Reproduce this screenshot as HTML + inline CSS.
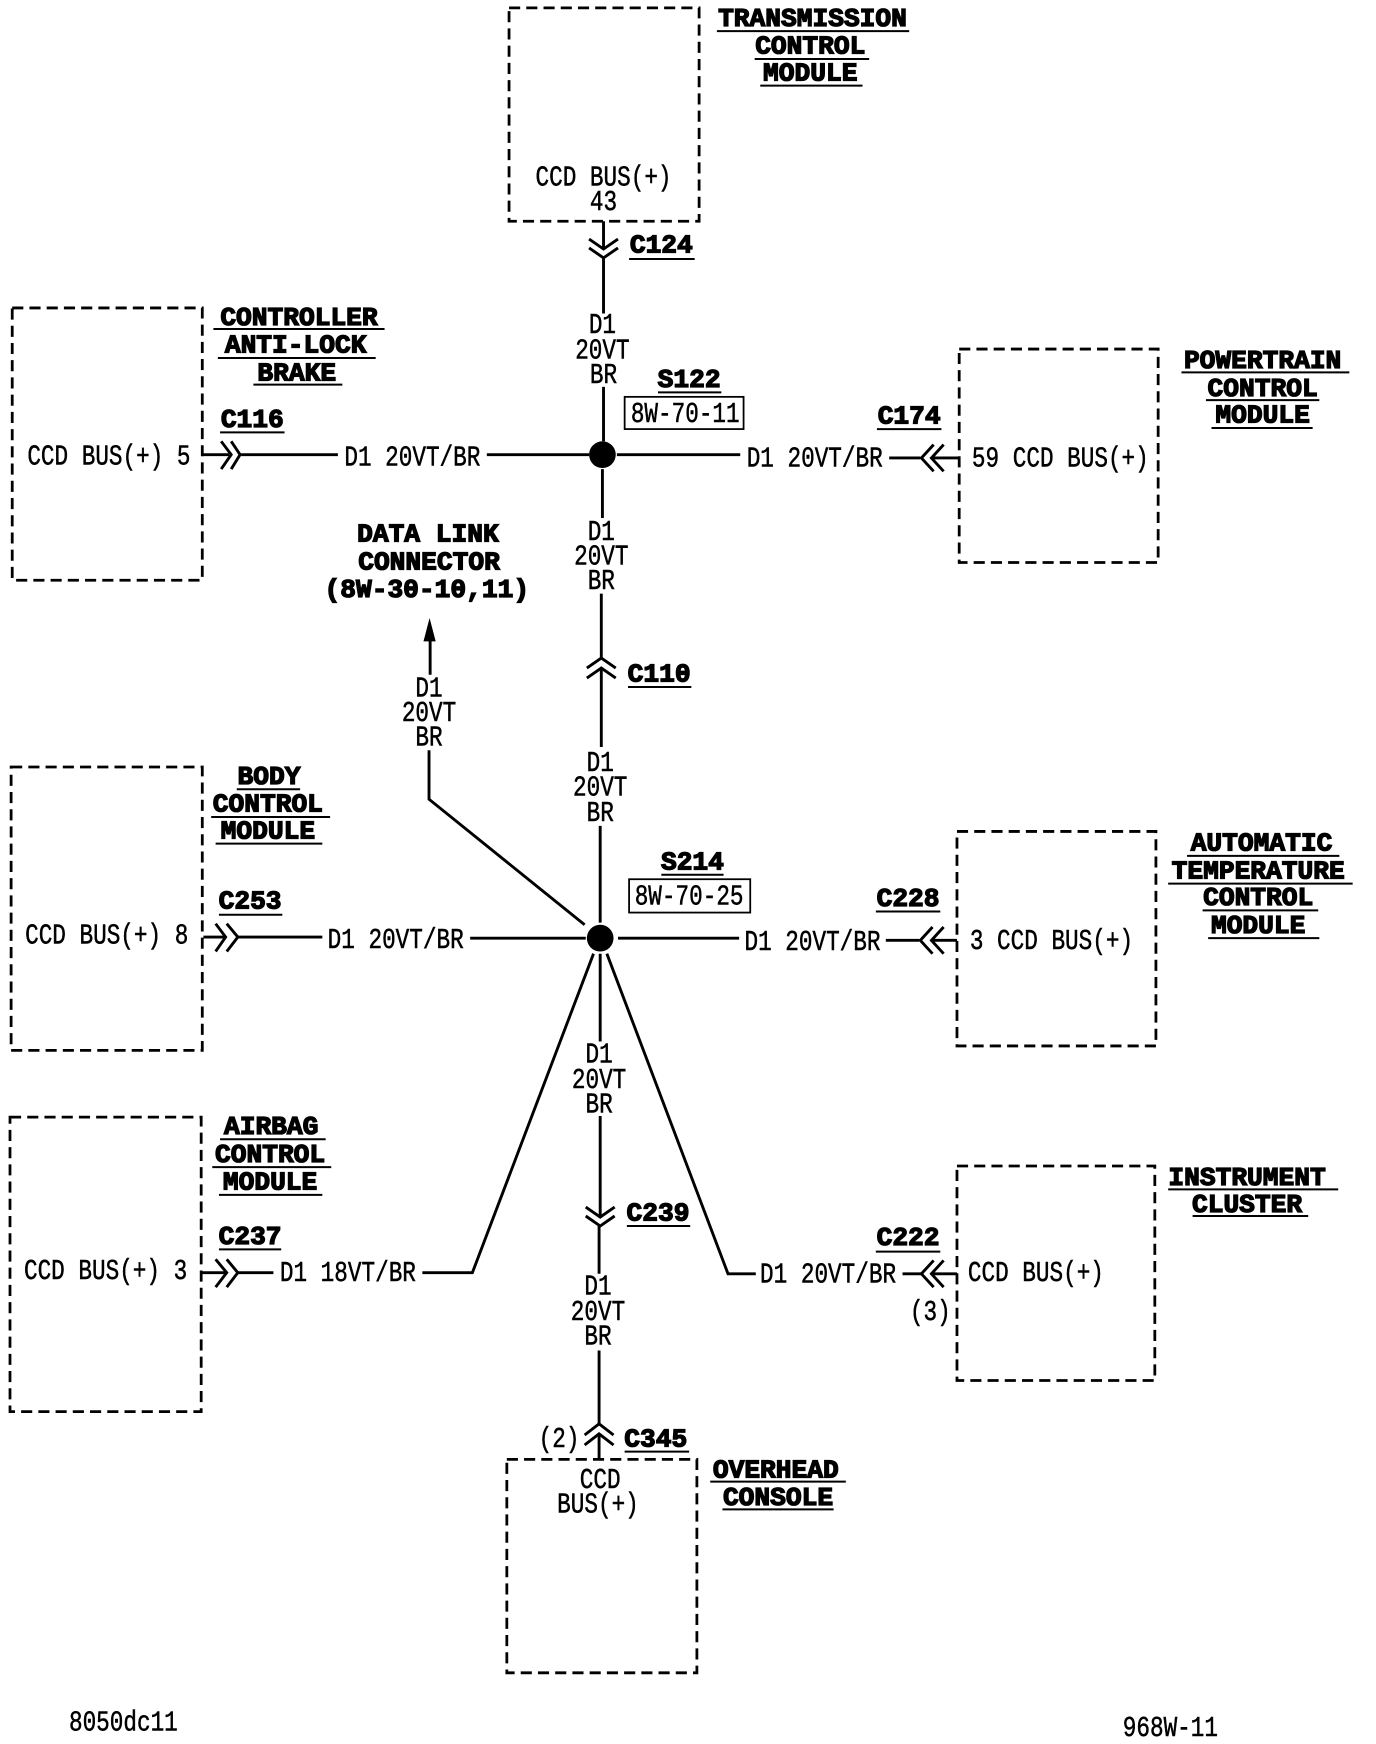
<!DOCTYPE html>
<html><head><meta charset="utf-8"><style>
html,body{margin:0;padding:0;background:#fff}
svg{display:block}
.t{font:25.5px "Liberation Mono",monospace;fill:#000;text-anchor:middle;stroke:#000;stroke-width:.45}
.b{font:bold 23.6px "Liberation Mono",monospace;fill:#000;text-anchor:middle;stroke:#000;stroke-width:1.2}
.box{fill:none;stroke:#000;stroke-width:2.5;stroke-dasharray:10 5.5}
.w{fill:none;stroke:#000;stroke-width:2.6}
.u{fill:none;stroke:#000;stroke-width:1.8}
.f{fill:none;stroke:#000;stroke-width:1.6}
</style></head><body>
<svg xmlns="http://www.w3.org/2000/svg" width="1376" height="1744" viewBox="0 0 1238 1569">
<rect width="1240" height="1572" fill="#fff"/>
<!-- boxes -->
<rect class="box" x="458" y="7" width="171" height="192"/>
<rect class="box" x="11" y="277" width="171" height="245"/>
<rect class="box" x="863" y="314" width="179" height="192"/>
<rect class="box" x="10" y="690" width="172" height="255"/>
<rect class="box" x="861" y="748" width="179" height="193"/>
<rect class="box" x="9" y="1005" width="172" height="265"/>
<rect class="box" x="861" y="1049" width="178" height="193"/>
<rect class="box" x="456" y="1313" width="171" height="192"/>
<!-- wires -->
<path class="w" d="M543 199V224M543 232V282M543 348V397M217 409H304M438 409H530M555 409H666M542 422V466M800 412H828M838 412H863M182 409H206"/>
<path class="w" d="M541 534V592M541 601V672M540 743V830M387 575V607M386 675V719L526 832M214 843H290M183 843H203M423 844H527M556 844H665"/>
<path class="w" d="M797 846H827M838 846H861M540 858V937M540 1004V1095M539 1103V1146M539 1215V1281M539 1290V1313"/>
<path class="w" d="M534 858L425 1145H380M546 858L655 1146H680M181 1145H203M214 1145H246M812 1146H829M838 1146H861"/>
<!-- splices -->
<circle cx="542" cy="409" r="12"/>
<circle cx="540" cy="844" r="12"/>
<!-- arrow -->
<path d="M386.500 556L392 577H381Z"/>
<!-- chevrons -->
<path class="w" d="M530 215L543 224L556 215M530 223L543 232L556 223"/>
<path class="w" d="M199 397L208 409L199 422M208 397L216 409L208 422"/>
<path class="w" d="M840 400L829 412L840 424M849 400L838 412L849 424"/>
<path class="w" d="M528 601L541 592L554 601M528 610L541 601L554 610"/>
<path class="w" d="M194 831L203 843L194 856M204 831L214 843L204 856"/>
<path class="w" d="M839 834L828 846L839 858M849 834L838 846L849 858"/>
<path class="w" d="M194 1133L204 1145L194 1158M204 1133L214 1145L204 1158"/>
<path class="w" d="M840 1134L829 1146L840 1158M849 1134L838 1146L849 1158"/>
<path class="w" d="M527 1086L540 1095L553 1086M527 1094L540 1103L553 1094"/>
<path class="w" d="M526 1291L539 1281L552 1291M526 1300L539 1290L552 1300"/>
<!-- reference boxes -->
<rect class="f" x="562" y="357" width="107" height="29"/>
<rect class="f" x="566" y="791" width="109" height="30"/>
<!-- underlines -->
<path class="u" d="M645 28H818M679 53H782M684 77H776M566 233H625M192 296H346M196 322H338M228 346H308M198 389H256M592 353H649M789 386H847M1063 335H1214M1085 360H1187M1090 385H1181M565 618H622M213 710H270M190 735H297M194 759H290M197 823H254M595 787H651M788 820H846M1068 770H1205M1051 795H1217M1082 819H1186M1087 844H1187M198 1025H293M191 1050H298M197 1075H290M197 1124H253M564 1103H621M788 1126H846M1051 1070H1204M1073 1094H1177M562 1306H620M639 1333H761M650 1358H750"/>
<g transform="translate(0 -.8)">
<!-- bold labels -->
<text class="b" x="731" y="24">TRANSMISSION</text>
<text class="b" x="729" y="49">CONTROL</text>
<text class="b" x="729" y="73">MODULE</text>
<text class="b" x="595" y="228">C124</text>
<text class="b" x="269" y="293">CONTROLLER</text>
<text class="b" x="266" y="318">ANTI-LOCK</text>
<text class="b" x="267" y="343">BRAKE</text>
<text class="b" x="227" y="385">C116</text>
<text class="b" x="620" y="349">S122</text>
<text class="b" x="818" y="382">C174</text>
<text class="b" x="1136" y="332">POWERTRAIN</text>
<text class="b" x="1136" y="357">CONTROL</text>
<text class="b" x="1136" y="381">MODULE</text>
<text class="b" x="385" y="488">DATA LINK</text>
<text class="b" x="386" y="513">CONNECTOR</text>
<text class="b" x="384" y="538">(8W-30-10,11)</text>
<text class="b" x="593" y="614">C110</text>
<text class="b" x="242" y="706">BODY</text>
<text class="b" x="241" y="731">CONTROL</text>
<text class="b" x="241" y="755">MODULE</text>
<text class="b" x="225" y="818">C253</text>
<text class="b" x="623" y="783">S214</text>
<text class="b" x="817" y="816">C228</text>
<text class="b" x="1135" y="766">AUTOMATIC</text>
<text class="b" x="1132" y="791">TEMPERATURE</text>
<text class="b" x="1132" y="815">CONTROL</text>
<text class="b" x="1132" y="840">MODULE</text>
<text class="b" x="244" y="1021">AIRBAG</text>
<text class="b" x="243" y="1046">CONTROL</text>
<text class="b" x="243" y="1071">MODULE</text>
<text class="b" x="225" y="1120">C237</text>
<text class="b" x="592" y="1099">C239</text>
<text class="b" x="817" y="1121">C222</text>
<text class="b" x="1122" y="1067">INSTRUMENT</text>
<text class="b" x="1122" y="1091">CLUSTER</text>
<text class="b" x="590" y="1302">C345</text>
<text class="b" x="698" y="1330">OVERHEAD</text>
<text class="b" x="700" y="1355">CONSOLE</text>
<!-- regular labels -->
<text class="t" transform="translate(543 167.500) scale(.8 1)">CCD BUS(+)</text>
<text class="t" transform="translate(543 189.500) scale(.8 1)">43</text>
<text class="t" transform="translate(542 300.500) scale(.8 1)">D1</text>
<text class="t" transform="translate(542 323.500) scale(.8 1)">20VT</text>
<text class="t" transform="translate(543 345.500) scale(.8 1)">BR</text>
<text class="t" transform="translate(616.500 380.500) scale(.8 1)">8W-70-11</text>
<text class="t" transform="translate(98 418.500) scale(.8 1)">CCD BUS(+) 5</text>
<text class="t" transform="translate(371 419.500) scale(.8 1)">D1 20VT/BR</text>
<text class="t" transform="translate(733 420.500) scale(.8 1)">D1 20VT/BR</text>
<text class="t" transform="translate(954 420.500) scale(.8 1)">59 CCD BUS(+)</text>
<text class="t" transform="translate(541 486.500) scale(.8 1)">D1</text>
<text class="t" transform="translate(541 508.500) scale(.8 1)">20VT</text>
<text class="t" transform="translate(541 530.500) scale(.8 1)">BR</text>
<text class="t" transform="translate(540 694.500) scale(.8 1)">D1</text>
<text class="t" transform="translate(540 716.500) scale(.8 1)">20VT</text>
<text class="t" transform="translate(540 739.500) scale(.8 1)">BR</text>
<text class="t" transform="translate(386 627.500) scale(.8 1)">D1</text>
<text class="t" transform="translate(386 649.500) scale(.8 1)">20VT</text>
<text class="t" transform="translate(386 671.500) scale(.8 1)">BR</text>
<text class="t" transform="translate(620 814.500) scale(.8 1)">8W-70-25</text>
<text class="t" transform="translate(96 849.500) scale(.8 1)">CCD BUS(+) 8</text>
<text class="t" transform="translate(356 853.500) scale(.8 1)">D1 20VT/BR</text>
<text class="t" transform="translate(731 855.500) scale(.8 1)">D1 20VT/BR</text>
<text class="t" transform="translate(946 854.500) scale(.8 1)">3 CCD BUS(+)</text>
<text class="t" transform="translate(539 956.500) scale(.8 1)">D1</text>
<text class="t" transform="translate(539 979.500) scale(.8 1)">20VT</text>
<text class="t" transform="translate(539 1001.500) scale(.8 1)">BR</text>
<text class="t" transform="translate(538 1165.500) scale(.8 1)">D1</text>
<text class="t" transform="translate(538 1188.500) scale(.8 1)">20VT</text>
<text class="t" transform="translate(538 1210.500) scale(.8 1)">BR</text>
<text class="t" transform="translate(95 1151.500) scale(.8 1)">CCD BUS(+) 3</text>
<text class="t" transform="translate(313 1153.500) scale(.8 1)">D1 18VT/BR</text>
<text class="t" transform="translate(745 1154.500) scale(.8 1)">D1 20VT/BR</text>
<text class="t" transform="translate(932 1153.500) scale(.8 1)">CCD BUS(+)</text>
<text class="t" transform="translate(837 1188.500) scale(.8 1)">(3)</text>
<text class="t" transform="translate(503 1302.500) scale(.8 1)">(2)</text>
<text class="t" transform="translate(540 1339.500) scale(.8 1)">CCD</text>
<text class="t" transform="translate(538 1361.500) scale(.8 1)">BUS(+)</text>
<text class="t" transform="translate(111 1557.500) scale(.8 1)">8050dc11</text>
<text class="t" transform="translate(1053 1562.500) scale(.8 1)">968W-11</text>
</g>
</svg>
</body></html>
